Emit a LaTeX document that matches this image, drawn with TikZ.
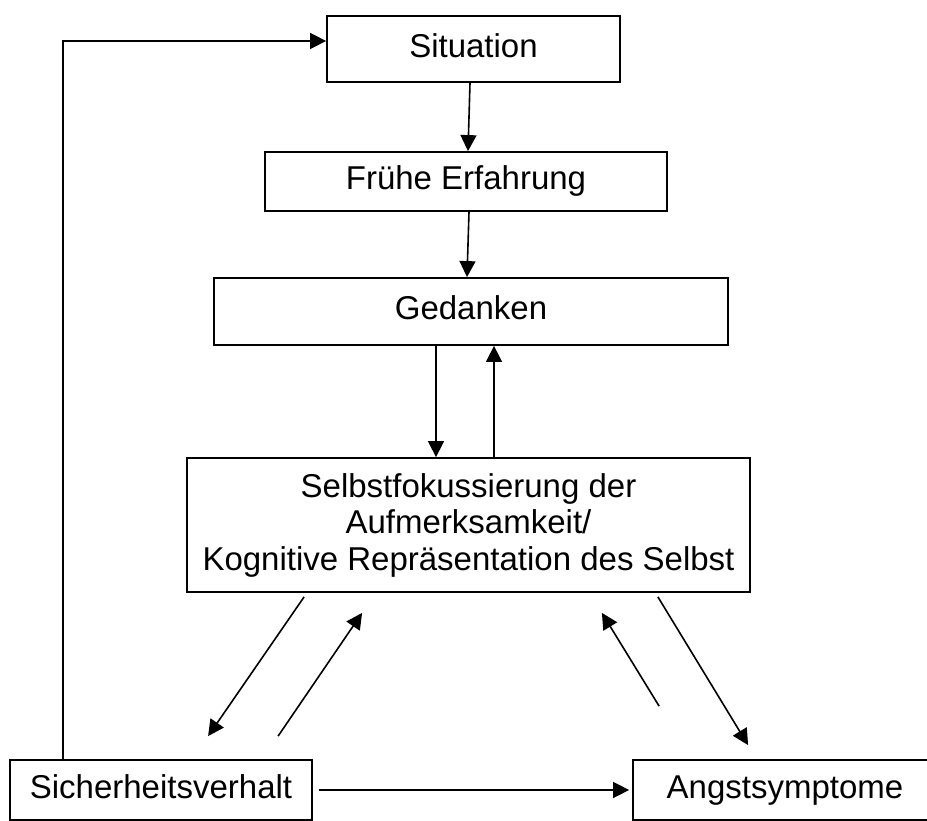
\documentclass[tikz,border=0pt]{standalone}
\usepackage{fontspec}
\setmainfont{Liberation Sans}
\usetikzlibrary{arrows.meta,calc}
\begin{document}
\begin{tikzpicture}[x=1pt,y=-1pt,
  box/.style={draw,line width=1.8pt,inner sep=0pt,font=\fontsize{33}{36.5}\selectfont},
  one/.style={text height=24.7pt,text depth=8.2pt},
  conn/.style={line width=1.6pt,-{Triangle[length=16pt,width=16pt]}}]
\useasboundingbox (0,0) rectangle (927,821);
\node[box,one,minimum width=293pt,minimum height=66pt] (sit) at (473.5,49) {Situation};
\node[box,one,minimum width=402pt,minimum height=59pt] (fru) at (466,181.5) {Frühe Erfahrung};
\node[box,one,minimum width=514pt,minimum height=67pt] (ged) at (471,311.5) {Gedanken};
\node[box,align=center,minimum width=563pt,minimum height=134pt] (selbst) at (468.5,525)
  {Selbstfokussierung der\\Aufmerksamkeit/\\Kognitive Repräsentation des Selbst};
\node[box,one,minimum width=302pt,minimum height=60pt] (sich) at (161,790) {Sicherheitsverhalt};
\node[box,one,minimum width=304pt,minimum height=60pt] (angst) at (785,790) {Angstsymptome};
\coordinate (corner) at (63,41);
\coordinate (dx) at (436,0);
\coordinate (ux) at (494,0);
\draw[conn] (sich.north -| corner) -- (corner) -- (corner -| sit.west);
\draw[conn] ([xshift=-3.5pt]sit.south) -- ([xshift=2pt]fru.north);
\draw[conn] ([xshift=3pt]fru.south) -- ([xshift=-4pt]ged.north);
\draw[conn] (ged.south -| dx) -- (selbst.north -| dx);
\draw[conn] (selbst.north -| ux) -- (ged.south -| ux);
\draw[conn] ($(selbst.south west)+(118,4)$) -- ($(sich.north west)+(199,-23)$);
\draw[conn] ($(sich.north west)+(269,-23)$) -- ($(selbst.south west)+(176,20)$);
\draw[conn] ($(angst.north west)+(27,-53)$) -- ($(selbst.south east)+(-149,20)$);
\draw[conn] ($(selbst.south east)+(-93,4)$) -- ($(angst.north west)+(116,-14)$);
\draw[conn,shorten <=6pt,shorten >=3pt] (sich.east) -- (angst.west);
\end{tikzpicture}
\end{document}
